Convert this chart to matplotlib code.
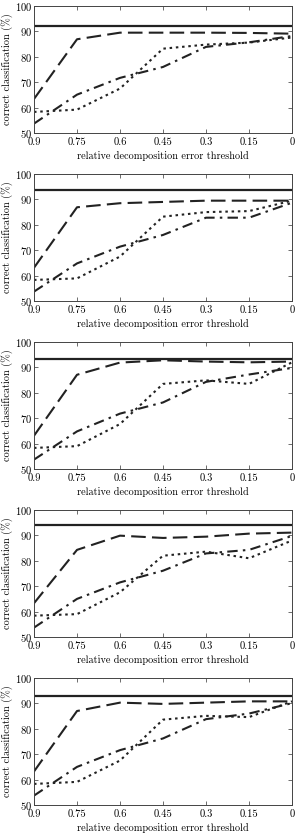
import numpy as np
import matplotlib
matplotlib.use("Agg")
import matplotlib.pyplot as plt

plt.rcParams['font.family'] = 'serif'
plt.rcParams['font.serif'] = ['cmr10', 'DejaVu Serif']
plt.rcParams['axes.formatter.use_mathtext'] = True
plt.rcParams['mathtext.fontset'] = 'cm'

# thresholds (x axis runs from 0.9 down to 0)
thresholds = [0.9, 0.75, 0.6, 0.45, 0.3, 0.15, 0.0]
tick_labels = ['0.9', '0.75', '0.6', '0.45', '0.3', '0.15', '0']

# one value per panel for the solid reference line
solid_level = [92.1, 93.6, 93.4, 94.0, 92.8]

dashed = [
    [63.4, 86.9, 89.5, 89.5, 89.5, 89.4, 89.1],
    [63.1, 86.9, 88.5, 89.0, 89.5, 89.5, 89.5],
    [63.1, 87.1, 91.9, 92.8, 92.3, 92.0, 92.3],
    [63.3, 84.3, 89.9, 89.0, 89.5, 90.7, 91.1],
    [63.2, 87.0, 90.3, 89.8, 90.3, 90.8, 90.8],
]
dashdot = [
    [53.7, 65.1, 71.7, 76.0, 83.9, 85.7, 88.2],
    [53.7, 64.8, 71.4, 76.0, 82.8, 82.8, 88.7],
    [53.7, 64.8, 71.8, 76.2, 84.3, 87.2, 89.8],
    [53.7, 65.0, 71.5, 76.1, 82.9, 84.3, 89.8],
    [53.7, 65.0, 71.6, 76.2, 83.8, 86.0, 90.1],
]
dotted = [
    [58.3, 59.2, 67.5, 83.2, 84.8, 85.6, 87.6],
    [58.3, 58.9, 67.5, 83.2, 85.0, 85.4, 89.5],
    [58.3, 59.0, 67.7, 83.5, 84.9, 83.5, 92.0],
    [58.4, 59.0, 67.6, 82.0, 83.6, 81.0, 88.0],
    [58.3, 59.1, 67.5, 83.6, 85.1, 84.6, 90.8],
]

W, H = 296, 835
fig = plt.figure(figsize=(W / 100, H / 100), dpi=100)

# axes tops in pixels
tops = [6, 174, 342, 510, 678]
ax_h = 127
left, right = 34, 292

for i in range(5):
    ax = fig.add_axes([left / W, 1 - (tops[i] + ax_h) / H, (right - left) / W, ax_h / H])
    ax.axhline(solid_level[i], color='#222222', lw=1.6)
    ax.plot(thresholds, dashed[i], color='#222222', lw=1.5, dashes=(7, 3))
    ax.plot(thresholds, dashdot[i], color='#222222', lw=1.5, dashes=(5, 2.5, 1.2, 2.5))
    ax.plot(thresholds, dotted[i], color='#222222', lw=1.5, dashes=(1.2, 1.8))
    ax.set_xlim(0.9, 0)
    ax.set_ylim(50, 100)
    ax.set_xticks(thresholds)
    ax.set_xticklabels(tick_labels)
    ax.set_yticks([50, 60, 70, 80, 90, 100])
    ax.tick_params(direction='in', top=True, right=True, labelsize=7.6, length=3,
                   width=0.6, color='#555555')
    ax.tick_params(axis='x', pad=3)
    ax.tick_params(axis='y', pad=1.5)
    for s in ax.spines.values():
        s.set_linewidth(0.7)
        s.set_color('#444444')
    ax.set_xlabel('relative decomposition error threshold', fontsize=7.4, labelpad=3)
    ax.set_ylabel('correct classification (%)', fontsize=7.4, labelpad=1)

fig.savefig('out.png', dpi=100)
